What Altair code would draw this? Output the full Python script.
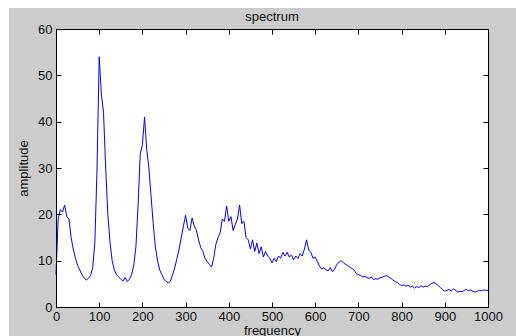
import altair as alt
import pandas as pd

freq = list(range(0, 1001, 5))
amp = [
    7, 19, 21, 20.5, 22, 19.5, 19, 15, 12.5, 10.5,
    9, 8, 7, 6.3, 5.8, 6.2, 6.8, 8.5, 14, 30,
    54, 46, 42, 30, 20, 14, 10, 8, 7, 6.5,
    6, 5.6, 6.4, 5.5, 6, 7, 9, 13, 22, 33,
    35, 41, 34, 30, 24, 18, 13, 10, 8, 7,
    6, 5.5, 5.2, 5.6, 7, 8.5, 10.5, 12.5, 15, 17.5,
    19.8, 17, 16.5, 19.2, 17.5, 16.5, 14.5, 12.8, 12, 10.5,
    9.8, 9.2, 8.6, 10.5, 13.5, 15, 16, 19, 18.5, 21.8,
    18.5, 19.5, 16.5, 17.8, 19, 22, 18, 18.5, 15, 14.5,
    12.5, 14.5, 12, 13.8, 11.5, 13, 10.8, 12, 11, 10.5,
    9.5, 10.5, 9.8, 11, 10.5, 11.8, 11, 11.8, 10.8, 11.2,
    10.2, 11, 10.5, 11.5, 11, 12.5, 14.5, 12.3, 11.8, 10.5,
    10.8, 9.8, 8.8, 8.2, 8.5, 8, 7.8, 8.5, 7.6, 8.2,
    9.2, 9.6, 10, 9.6, 9.2, 9, 8.6, 8.3, 8, 7.2,
    7, 6.8, 6.5, 6.6, 6.3, 6.2, 6.5, 5.9, 6.1, 6,
    6.3, 6.4, 6.6, 6.8, 6.5, 6.2, 5.8, 5.5, 5.3, 4.9,
    4.6, 4.8, 4.5, 4.7, 4.3, 4.5, 4.1, 4.4, 4.2, 4.6,
    4.3, 4.5, 4.4, 4.8, 5.1, 5.3, 5, 4.6, 4.2, 3.7,
    3.4, 3.6, 3.8, 3.5, 3.9, 3.6, 3.2, 3.4, 3.3, 3.6,
    3.8, 3.5, 3.7, 3.4, 3.2, 3.4, 3.6, 3.5, 3.7, 3.6,
    3.6,
]
x_ticks = [0, 100, 200, 300, 400, 500, 600, 700, 800, 900, 1000]
y_ticks = [0, 10, 20, 30, 40, 50, 60]
title_text = "spectrum"

df = pd.DataFrame({"frequency": freq, "amplitude": amp})
one = pd.DataFrame({"a": [0]})

W, H = 432, 278
FONT = "Liberation Sans"
TXT = "#111111"
xs = alt.Scale(domain=[0, 1000], nice=False, zero=False)
ys = alt.Scale(domain=[0, 60], nice=False, zero=False)

bg = alt.Chart(one).mark_rect(color="#cccccc").encode(
    x=alt.value(-47), x2=alt.value(W + 28), y=alt.value(-21), y2=alt.value(H + 29)
)
panel = alt.Chart(one).mark_rect(color="white").encode(
    x=alt.value(0), x2=alt.value(W), y=alt.value(0), y2=alt.value(H)
)
title = alt.Chart(one).mark_text(
    text=title_text, font=FONT, fontSize=13, color=TXT,
    align="center", baseline="middle"
).encode(x=alt.value(W / 2), y=alt.value(-12))

common = dict(grid=False, labelFont=FONT, titleFont=FONT, labelFontSize=13,
              titleFontSize=13, titleFontWeight="normal", labelColor=TXT,
              titleColor=TXT, domainColor="black", tickColor="black",
              labelOverlap=False, zindex=2)

line = alt.Chart(df).mark_line(color="#0000ff", strokeWidth=1).encode(
    x=alt.X("frequency:Q", scale=xs, axis=alt.Axis(
        orient="bottom", values=x_ticks, tickSize=0, labelPadding=3,
        title="frequency", titlePadding=1, labelFlush=False, format="d", **common)),
    y=alt.Y("amplitude:Q", scale=ys, axis=alt.Axis(
        orient="left", values=y_ticks, tickSize=0, labelPadding=4,
        title="amplitude", titlePadding=7, format="d", **common)),
)

tick_common = dict(grid=False, labels=False, title="", tickColor="black",
                   tickSize=5, domainColor="black", zindex=2)

ticks_a = alt.Chart(df).mark_line(opacity=0).encode(
    x=alt.X("frequency:Q", scale=xs, axis=alt.Axis(
        orient="top", offset=-H, values=x_ticks, domain=False, **tick_common)),
    y=alt.Y("amplitude:Q", scale=ys, axis=alt.Axis(
        orient="right", offset=-W, values=y_ticks, domain=False, **tick_common)),
)
ticks_b = alt.Chart(df).mark_line(opacity=0).encode(
    x=alt.X("frequency:Q", scale=xs, axis=alt.Axis(
        orient="bottom", offset=-H, values=x_ticks, domain=True, **tick_common)),
    y=alt.Y("amplitude:Q", scale=ys, axis=alt.Axis(
        orient="left", offset=-W, values=y_ticks, domain=True, **tick_common)),
)

chart = alt.layer(bg, panel, title, line, ticks_a, ticks_b).resolve_axis(
    x="independent", y="independent"
).properties(
    width=W, height=H,
    autosize=alt.AutoSizeParams(type="none"),
    padding={"left": 56, "top": 29, "right": 28, "bottom": 29},
).configure(background="white").configure_view(stroke=None)

chart.save("out.html", embed_options={"renderer": "svg", "actions": False})
